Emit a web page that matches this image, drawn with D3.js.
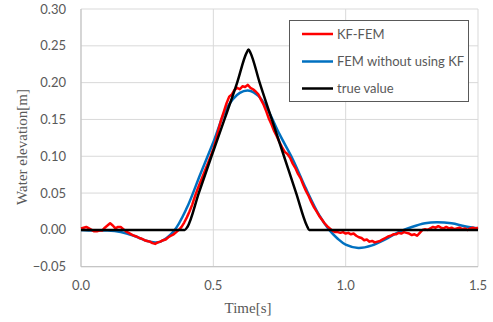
<!DOCTYPE html>
<html><head><meta charset="utf-8">
<script src="https://cdn.jsdelivr.net/npm/d3@7/dist/d3.min.js"></script>
<style>body{margin:0;background:#fff}svg{display:block}</style>
</head><body><svg id="c" width="493" height="322"></svg>
<script>
// ---- data ----
const xTicks = [0.0, 0.5, 1.0, 1.5];
const yTicks = [-0.05, 0.00, 0.05, 0.10, 0.15, 0.20, 0.25, 0.30];
const seriesNames = ["KF-FEM", "FEM without using KF", "true value"];

// KF-FEM (red), sampled every 0.01 s from 0 to 1.5
const redTime = d3.range(0, 151).map(i => i / 100);
const redValues = [
 0.002,0.003,0.004,0.002,0.000,-0.002,-0.002,-0.001,-0.001,0.003,
 0.006,0.009,0.006,0.002,0.004,0.004,0.001,-0.002,-0.004,-0.006,
 -0.008,-0.009,-0.011,-0.012,-0.014,-0.015,-0.016,-0.018,-0.019,-0.017,
 -0.016,-0.014,-0.013,-0.010,-0.008,-0.006,-0.003,0.000,0.004,0.010,
 0.017,0.025,0.034,0.045,0.055,0.064,0.073,0.082,0.091,0.100,
 0.110,0.122,0.137,0.150,0.161,0.172,0.181,0.184,0.190,0.193,
 0.191,0.195,0.194,0.197,0.193,0.191,0.188,0.184,0.177,0.170,
 0.161,0.151,0.143,0.134,0.127,0.119,0.112,0.106,0.103,0.098,
 0.090,0.084,0.076,0.070,0.061,0.053,0.046,0.038,0.031,0.025,
 0.019,0.014,0.009,0.005,0.002,-0.001,-0.003,-0.003,-0.004,-0.003,
 -0.005,-0.004,-0.006,-0.005,-0.008,-0.010,-0.011,-0.014,-0.013,-0.016,
 -0.015,-0.017,-0.016,-0.015,-0.013,-0.011,-0.009,-0.008,-0.006,-0.006,
 -0.004,-0.005,-0.003,-0.004,-0.005,-0.007,-0.006,-0.008,-0.004,0.000,
 0.001,0.000,0.002,0.004,0.003,0.005,0.003,0.002,0.004,0.002,
 0.003,0.001,0.002,0.003,0.001,0.002,0.000,0.002,0.003,0.002,0.003
];

// FEM without using KF (blue)
const blueTime   = [0,0.05,0.10,0.15,0.20,0.25,0.28,0.30,0.35,0.40,0.45,0.50,0.55,0.60,0.636,0.67,0.70,0.75,0.80,0.85,0.90,0.938,0.97,1.00,1.048,1.10,1.15,1.20,1.25,1.30,1.344,1.40,1.45,1.50];
const blueValues = [0,-0.001,-0.001,-0.003,-0.008,-0.015,-0.017,-0.016,-0.002,0.030,0.075,0.119,0.165,0.186,0.189,0.182,0.167,0.130,0.096,0.056,0.020,0.0,-0.012,-0.020,-0.0245,-0.021,-0.013,-0.003,0.004,0.009,0.0105,0.009,0.005,0.002];

// true value (black)
const blackTime   = [0,0.392,0.402,0.445,0.493,0.542,0.590,0.625,0.633,0.641,0.675,0.721,0.767,0.813,0.853,0.862,0.87,1.5];
const blackValues = [0,0,0.004,0.05,0.10,0.15,0.20,0.240,0.245,0.240,0.20,0.15,0.10,0.05,0.006,0.0,0,0];

// ---- chart ----
const svg = d3.select("#c");
const L = 81, R = 478, T = 9, B = 266.7;
const x = d3.scaleLinear().domain([0, 1.5]).range([L, R]);
const y = d3.scaleLinear().domain([-0.05, 0.30]).range([B, T]);
const font = "Lato, 'Open Sans', sans-serif";
const gray = "#595959";

// gridlines
svg.append("g").selectAll("line").data(yTicks).join("line")
  .attr("x1", L).attr("x2", R).attr("y1", d => y(d)).attr("y2", d => y(d))
  .attr("stroke", "#d9d9d9").attr("stroke-width", 1);
svg.append("g").selectAll("line").data(xTicks).join("line")
  .attr("x1", d => x(d)).attr("x2", d => x(d)).attr("y1", T).attr("y2", B)
  .attr("stroke", "#d9d9d9").attr("stroke-width", 1);
// axis lines
svg.append("line").attr("x1", L).attr("x2", L).attr("y1", T).attr("y2", B).attr("stroke", "#bfbfbf");
svg.append("line").attr("x1", L).attr("x2", R).attr("y1", B).attr("y2", B).attr("stroke", "#bfbfbf");

// tick labels
svg.append("g").selectAll("text").data(yTicks).join("text")
  .attr("x", 66).attr("y", d => y(d)).attr("dy", "0.35em")
  .attr("text-anchor", "end").attr("font-family", font).attr("font-size", 13)
  .attr("fill", gray).text(d => d3.format(".2f")(d));
svg.append("g").selectAll("text").data(xTicks).join("text")
  .attr("x", d => x(d)).attr("y", 290)
  .attr("text-anchor", "middle").attr("font-family", font).attr("font-size", 13)
  .attr("fill", gray).text(d => d3.format(".1f")(d));

// axis titles
svg.append("text").attr("x", 248).attr("y", 313).attr("text-anchor", "middle")
  .attr("font-family", "'Liberation Serif', 'Times New Roman', serif").attr("font-size", 15)
  .attr("fill", gray).text("Time[s]");
svg.append("text").attr("transform", "translate(27,147) rotate(-90)").attr("text-anchor", "middle")
  .attr("font-family", "'Liberation Serif', 'Times New Roman', serif").attr("font-size", 15)
  .attr("fill", gray).text("Water elevation[m]");

// lines
const colors = ["#ff0000", "#0070c0", "#000000"];
const mk = (ts, vs) => ts.map((t, i) => [t, vs[i]]);
const lineLin = d3.line().x(d => x(d[0])).y(d => y(d[1]));
const lineSm = d3.line().x(d => x(d[0])).y(d => y(d[1])).curve(d3.curveMonotoneX);
const lineCR = d3.line().x(d => x(d[0])).y(d => y(d[1])).curve(d3.curveCatmullRom.alpha(0.5));
svg.append("path").attr("d", lineCR(mk(blueTime, blueValues)))
  .attr("fill", "none").attr("stroke", colors[1]).attr("stroke-width", 2.5);
svg.append("path").attr("d", lineLin(mk(redTime, redValues)))
  .attr("fill", "none").attr("stroke", colors[0]).attr("stroke-width", 2.5).attr("stroke-linejoin", "round");
svg.append("path").attr("d", lineSm(mk(blackTime, blackValues)))
  .attr("fill", "none").attr("stroke", colors[2]).attr("stroke-width", 2.5).attr("stroke-linejoin", "round");

// legend
const lg = svg.append("g");
lg.append("rect").attr("x", 289.5).attr("y", 20.5).attr("width", 179).attr("height", 81)
  .attr("fill", "#fff").attr("stroke", gray).attr("stroke-width", 1);
const ly = [34, 61.5, 88.5];
seriesNames.forEach((n, i) => {
  lg.append("line").attr("x1", 302).attr("x2", 333).attr("y1", ly[i]).attr("y2", ly[i])
    .attr("stroke", colors[i]).attr("stroke-width", 2.5);
  lg.append("text").attr("x", 337).attr("y", ly[i]).attr("dy", "0.35em")
    .attr("font-family", font).attr("font-size", 13).attr("fill", gray).text(n);
});
</script></body></html>
